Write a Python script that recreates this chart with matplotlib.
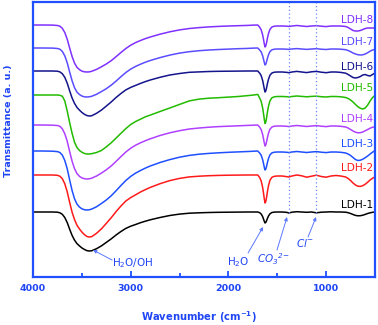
import matplotlib
matplotlib.use("Agg")
import matplotlib.pyplot as plt

# ---------------- data ----------------
wavenumber = [4000, 3900, 3800, 3750, 3725, 3700, 3675, 3650, 3625, 3600, 3575, 3550,
              3525, 3500, 3475, 3450, 3425, 3400, 3350, 3300, 3250, 3200, 3150, 3100,
              3050, 3000, 2950, 2900, 2850, 2800, 2700, 2600, 2500, 2400, 2300, 2200,
              2100, 2000, 1900, 1800, 1740, 1700,
              1680, 1665, 1650, 1640, 1632, 1625, 1618, 1610, 1600, 1590, 1575, 1555,
              1530, 1500,
              1450, 1400, 1384, 1350, 1300, 1250, 1200, 1150, 1100, 1050, 1000, 950,
              900, 850, 800, 775, 750, 725, 700, 675, 650, 625, 600, 575, 550, 525, 500]

ldh8 = [252, 252, 251.9, 251.5, 250.8, 248.7, 244.5, 237.9, 229, 220.5, 213.9, 209.7,
        207.4, 205.9, 205.2, 205, 205.1, 205.7, 207.6, 210.2, 213, 216.3, 220.3, 224.5,
        228.5, 231.8, 234.4, 236.5, 238.4, 240, 242.8, 245.2, 247.1, 248.5, 249.4, 250.1,
        250.6, 251, 251.3, 251.6, 251.9, 252,
        249.7, 247.2, 242.2, 237.1, 232.7, 230, 231, 234.2, 239.2, 243.4, 247.6, 250,
        250.8, 251,
        251, 250.8, 250.5, 251, 251.5, 251, 250.5, 251, 251.3, 250.8, 250.4, 251,
        251, 251, 250.5, 249.5, 248, 246.5, 246, 246, 246.5, 247.5, 248.5, 249, 249, 249, 249]
ldh7 = [229, 229, 228.9, 228.5, 227.8, 225.6, 221.2, 214.3, 205, 196.2, 189.3, 184.9,
        182.5, 181, 180.2, 180, 180.2, 180.7, 182.7, 185.4, 188.3, 191.8, 195.9, 200.3,
        204.5, 207.9, 210.6, 212.8, 214.8, 216.5, 219.4, 221.9, 223.9, 225.3, 226.3, 227,
        227.5, 227.9, 228.3, 228.6, 228.9, 229,
        227, 225.1, 221.3, 217.4, 214.1, 212, 212.8, 215.2, 219, 222.2, 225.4, 227.2,
        227.8, 228,
        228, 227.8, 227.6, 228, 228.4, 228, 227.6, 228, 228.3, 227.8, 227.5, 228,
        228, 227.8, 227.3, 226.5, 225.3, 224, 223, 222.3, 222, 222.2, 223, 224.3, 225.8, 227, 227.5]
ldh6 = [206, 206, 206, 205.8, 205.1, 203.3, 199.7, 193.9, 186.2, 179, 173.6, 169.6,
        166.9, 164.6, 162.8, 161.5, 161, 161.2, 163.7, 166.9, 170.9, 175, 179.5, 183.5,
        187.1, 189.6, 191.6, 193.6, 195.4, 197, 199.7, 202, 203.5, 204.7, 205.1, 205.5,
        205.7, 205.8, 205.9, 206, 206, 206,
        203.8, 201.4, 196.6, 191.8, 187.6, 185, 186, 189, 193.8, 197.8, 201.8, 204,
        204.8, 205,
        205, 204.6, 204.3, 205, 205.6, 205, 204.4, 205.2, 205.6, 204.8, 204.3, 205,
        205, 204.6, 203.8, 202.5, 201, 199.5, 199, 199.5, 200.5, 202, 202.5, 201.5, 201, 202.5, 204]
ldh5 = [182, 182, 182, 182, 181.7, 180.8, 176.1, 166.1, 154.3, 143.7, 134.8, 129.5,
        126.5, 124.8, 123.6, 123, 123, 123.3, 124.5, 126.5, 130.1, 134.2, 138.9, 143.7,
        148.4, 152.5, 155.5, 157.8, 160.2, 161.9, 165.5, 169, 172.6, 176.1, 177.9, 178.8,
        179.3, 179.9, 180.5, 181.4, 182, 182.6,
        178.9, 175.6, 169.2, 162.7, 157, 153.5, 154.9, 158.9, 165.4, 170.8, 176.2, 179.2,
        180.2, 180.5,
        180.5, 180.3, 180, 180.5, 181, 180.6, 180.2, 180.6, 180.8, 180.3, 180, 180.5,
        180.5, 180.2, 179.5, 178.5, 177, 175, 172.5, 170.3, 168.7, 168, 169, 172, 176, 179.5, 181.5]
ldh4 = [152, 152, 151.8, 151.5, 150.7, 148.2, 143.4, 135.8, 125.5, 115.8, 108.3, 103.4,
        100.7, 99.1, 98.3, 98, 98.2, 98.8, 101, 103.9, 107.2, 111, 115.6, 120.4,
        125, 128.8, 131.8, 134.2, 136.3, 138.2, 141.5, 144.2, 146.3, 148, 149, 149.8,
        150.4, 150.8, 151.2, 151.6, 151.8, 152,
        149.8, 147.4, 142.6, 137.8, 133.6, 131, 132, 135, 139.8, 143.8, 147.8, 150,
        150.8, 151,
        151, 150.7, 150.4, 151, 151.5, 151, 150.5, 151, 151.4, 150.8, 150.4, 151,
        151, 150.7, 150, 149, 147.5, 146, 144.8, 144.2, 144.3, 145, 146.2, 147.5, 148.8, 149.8, 150]
ldh3 = [126, 126, 125.8, 125.4, 124.5, 121.9, 116.6, 108.3, 97.1, 86.5, 78.2, 72.9,
        70, 68.2, 67.3, 67, 67.2, 67.9, 70.2, 73.5, 77, 81.2, 86.2, 91.5,
        96.5, 100.6, 103.9, 106.5, 108.9, 111, 114.5, 117.4, 119.8, 121.6, 122.8, 123.6,
        124.2, 124.7, 125.1, 125.5, 125.8, 126,
        123.9, 121.8, 117.4, 113.1, 109.3, 107, 107.9, 110.6, 114.9, 118.5, 122.1, 124.1,
        124.8, 125,
        125, 124.7, 124.4, 125, 125.5, 125, 124.5, 125, 125.4, 124.8, 124.4, 125,
        125, 124.7, 124, 123, 121.5, 119.5, 117.5, 116.5, 116.8, 117.8, 119.3, 121, 123, 124.8, 126.5]
ldh2 = [102, 102, 102, 101.7, 100.8, 98.3, 93.3, 85.3, 74.7, 64.8, 57.4, 51.8,
        48.1, 45, 42.5, 40.6, 40, 40.3, 43.7, 48.1, 53.6, 59.2, 65.4, 71,
        76, 79.4, 82.2, 85, 87.4, 89.6, 93.3, 96.4, 98.6, 100.1, 100.8, 101.3,
        101.6, 101.8, 101.9, 102, 102, 102,
        99.4, 96.1, 89.7, 83.2, 77.5, 74, 75.4, 79.4, 85.9, 91.3, 96.7, 99.7,
        100.7, 101,
        101, 100.3, 100, 101, 102, 101.2, 99.8, 100.8, 101.8, 100.5, 99.8, 101,
        101.5, 101, 100, 98.5, 96.5, 94, 92, 90.8, 90.6, 91.3, 92.8, 94.8, 97, 98.8, 100]
ldh1 = [65, 65, 65, 64.8, 64.2, 62.7, 59.5, 54.5, 47.8, 41.6, 36.9, 33.4,
        31.1, 29.1, 27.6, 26.4, 26, 26.2, 28.3, 31.1, 34.6, 38.1, 42, 45.5,
        48.6, 50.8, 52.5, 54.3, 55.8, 57.2, 59.5, 61.5, 62.9, 63.8, 64.2, 64.5,
        64.7, 64.8, 64.9, 65, 65, 65,
        64.3, 63, 60.4, 57.7, 55.4, 54, 54.6, 56.2, 58.8, 61, 63.2, 64.5,
        64.9, 65,
        65, 64.6, 64, 64.8, 65.3, 65, 64.7, 65, 64.2, 64.8, 65, 65.2,
        65, 65, 64.8, 64.3, 63.5, 62.5, 61.6, 61.2, 61.3, 61.8, 62.6, 63.5, 64.2, 64.7, 65]

series_names = ["LDH-1", "LDH-2", "LDH-3", "LDH-4", "LDH-5", "LDH-6", "LDH-7", "LDH-8"]
series_values = [ldh1, ldh2, ldh3, ldh4, ldh5, ldh6, ldh7, ldh8]
label_y = [72, 109, 133, 158, 189, 210, 235, 257]

x_ticks = [4000, 3000, 2000, 1000]
x_minor = [3500, 2500, 1500]
marker_lines = [1384, 1100]

annotations = [
    ("H$_2$O/OH", (2976, 14), (3191, 17), (3386, 27), "normal"),
    ("H$_2$O", (1902, 15), (1799, 24), (1646, 50), "normal"),
    ("CO$_3$$^{2\\mathsf{-}}$", (1543, 18), (1503, 27), (1400, 60), "italic"),
    ("Cl$^{\\mathsf{-}}$", (1216, 34), (1185, 40), (1103, 60), "italic"),
]

# ---------------- style ----------------
colors = ["#000000", "#ff1a1a", "#1f4fff", "#b040ff", "#22bb00", "#14148c", "#5a4cff", "#8030ff"]
blue = "#1f45f5"
plt.rcParams["mathtext.default"] = "regular"

fig = plt.figure(figsize=(3.78, 3.25), dpi=100)
ax = fig.add_axes([33 / 378, 48 / 325, 342 / 378, 275 / 325])

for name, vals, c, ly in zip(series_names, series_values, colors, label_y):
    ax.plot(wavenumber, vals, color=c, lw=1.1)
    ax.text(520, ly, name, color=c, ha="right", va="center", fontsize=7.6)

for xv in marker_lines:
    ax.vlines(xv, 64, 275, colors="#6a85ff", linestyles=(0, (1, 2)), lw=0.9)

for txt, tpos, tail, tip, st in annotations:
    ax.annotate("", xy=tip, xytext=tail,
                arrowprops=dict(arrowstyle="-|>", color="#5a78ff", lw=0.7,
                                mutation_scale=5, shrinkA=0, shrinkB=0))
    ax.text(tpos[0], tpos[1], txt, color=blue, ha="center", va="center",
            fontsize=7.5, style=st)

ax.set_xlim(4000, 500)
ax.set_ylim(0, 275)
ax.set_xticks(x_ticks)
ax.set_xticks(x_minor, minor=True)
ax.set_yticks([])
for sp in ax.spines.values():
    sp.set_color("#1f4fff")
    sp.set_linewidth(1.6)
ax.tick_params(axis="x", which="both", direction="in", colors="#1f4fff", width=1.3,
               labelcolor=blue, labelsize=6.8, pad=5)
ax.tick_params(axis="x", which="major", length=4)
ax.tick_params(axis="x", which="minor", length=3)
for lab in ax.get_xticklabels():
    lab.set_fontweight("bold")

ax.set_xlabel("Wavenumber (cm$^{-1}$)", color=blue, fontsize=7.2, fontweight="bold",
              va="center")
ax.xaxis.set_label_coords(0.485, -0.145)
ax.set_ylabel("Transmittance (a. u.)", color=blue, fontsize=6.8, fontweight="bold",
              va="center")
ax.yaxis.set_label_coords(-0.073, 0.567)

fig.savefig("out.png", dpi=100)
